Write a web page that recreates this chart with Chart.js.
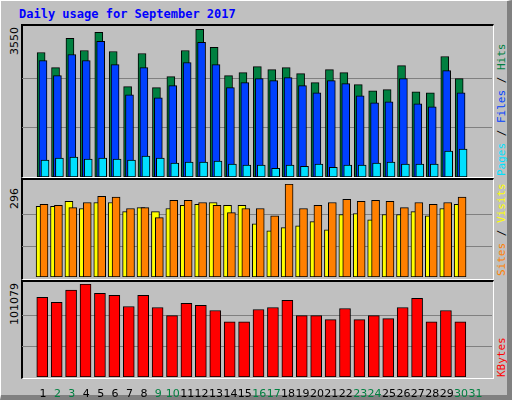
<!DOCTYPE html>
<html>
<head>
<meta charset="utf-8">
<script src="https://cdn.jsdelivr.net/npm/chart.js@4/dist/chart.umd.min.js"></script>
<style>
body{margin:0;background:#fff}
#wrap{position:relative;width:506px;height:394px;background:#c0c0c0;border-left:1px solid #fff;border-top:1px solid #fff;border-right:5px solid #808080;border-bottom:5px solid #808080;font-family:"DejaVu Sans",sans-serif}
#title{position:absolute;left:18px;top:6px;font:bold 12px "DejaVu Sans Mono",monospace;color:#0000ff}
.frame{position:absolute;left:20px;width:470px;border-top:2px solid #000;border-left:2px solid #000;border-right:1px solid #fff;border-bottom:1px solid #fff}
canvas{position:absolute}
.rot{position:absolute;transform-origin:left top;transform:rotate(-90deg);white-space:nowrap;font:11px "DejaVu Sans Mono",monospace}
.yl{font:11px "DejaVu Sans",sans-serif;color:#000}
</style>
</head>
<body>
<div id="wrap">
<div id="title">Daily usage for September 2017</div>
<div class="frame" style="top:23px;height:151px"></div>
<div class="frame" style="top:177px;height:99px"></div>
<div class="frame" style="top:279px;height:96px"></div>
<canvas id="c1" style="left:21px;top:28px;width:470px;height:148px"></canvas>
<canvas id="c2" style="left:21px;top:183px;width:470px;height:93px"></canvas>
<canvas id="c3" style="left:21px;top:283px;width:470px;height:113px"></canvas>
<div class="rot yl" style="left:7px;top:54px">3550</div>
<div class="rot yl" style="left:7px;top:208px">296</div>
<div class="rot yl" style="left:7px;top:324px">101079</div>
<div class="rot" style="left:494px;top:175px"><span style="color:#00e0ff">Pages</span> / <span style="color:#0040ff">Files</span> / <span style="color:#008040">Hits</span></div>
<div class="rot" style="left:494px;top:275px"><span style="color:#ff8000">Sites</span> / <span style="color:#ffff00">Visits</span></div>
<div class="rot" style="left:494px;top:376px"><span style="color:#ff0000">KBytes</span></div>
</div>
<script>
// days of the month
const days=[1,2,3,4,5,6,7,8,9,10,11,12,13,14,15,16,17,18,19,20,21,22,23,24,25,26,27,28,29,30,31]
const weekend=[2,3,9,10,16,17,23,24,30,31]

// values (day 31 has no data)
const hits=[2987,2625,3325,3035,3470,3011,2166,2963,2142,2408,3035,3543,3108,2432,2504,2649,2577,2625,2480,2263,2577,2504,2214,2069,2094,2673,2045,2021,2890,2359]
const files=[2794,2432,2939,2794,3253,2697,1973,2625,1901,2190,2746,3229,2697,2142,2263,2359,2311,2384,2190,2021,2311,2239,1949,1780,1804,2359,1756,1683,2553,2021]
const pages=[403,452,476,427,452,427,403,500,452,331,355,355,379,307,283,283,210,283,258,307,234,283,283,331,355,307,307,307,621,669]
const sites=[225,225,241,218,237,237,208,221,208,218,228,231,237,228,228,169,147,157,163,176,150,199,202,182,199,199,208,195,218,231]
const visits=[231,228,221,237,257,254,218,221,189,244,244,237,228,205,218,218,195,296,218,228,237,247,241,244,241,221,237,231,237,254]
const kbytes=[86620,81090,94360,101000,91040,88830,76670,88830,75560,66720,79990,77770,72250,60080,60080,73350,75560,83300,66720,66720,62290,74460,62290,66720,63400,75560,85520,60080,72250,60080]

const maxHits=3550, maxSites=296, maxKB=101079

function pts(arr,shift){
return arr.map((v,i)=>({x:days[i]+shift,y:v}))
}

function ds(arr,shift,color,w){
return {data:pts(arr,shift),backgroundColor:color,borderColor:"#000",borderWidth:1,barThickness:w,grouped:false,borderSkipped:false}
}

function makeChart(id,datasets,max,showX){
new Chart(document.getElementById(id),{
type:"bar",
data:{datasets:datasets},
options:{
responsive:false,animation:false,
layout:{padding:0},
plugins:{legend:{display:false},tooltip:{enabled:false}},
scales:{
x:{type:"linear",min:0.2,max:31.75,display:showX,
grid:{display:false},border:{display:false},
afterFit:s=>{s.height=showX?20:0},
afterBuildTicks:s=>{s.ticks=days.map(d=>({value:d+0.13}))},
ticks:{autoSkip:false,maxRotation:0,padding:3,
callback:(v,i)=>String(days[i]),
color:c=>weekend.includes(days[c.index])?"#008040":"#000",
font:{family:"DejaVu Sans",size:11}}},
y:{min:0,max:max,display:true,
afterFit:s=>{s.width=0},
afterBuildTicks:s=>{s.ticks=[{value:max/3},{value:max*2/3}]},
ticks:{display:false,padding:0},border:{display:false},
grid:{color:"#808080",lineWidth:1,drawTicks:false}}
}
}
})
}

// canvas sizes
for(const [id,h] of [["c1",148],["c2",93],["c3",113]]){
const c=document.getElementById(id); c.width=470; c.height=h
}

makeChart("c1",[ds(pages,0.27,"#00e0ff",8),ds(files,0.13,"#0040ff",8),ds(hits,0,"#008040",8)],maxHits,false)
makeChart("c2",[ds(visits,0.2,"#ff8000",8),ds(sites,-0.07,"#ffff00",8)],maxSites,false)
makeChart("c3",[ds(kbytes,0.08,"#ff0000",11)],maxKB,true)
</script>
</body>
</html>
